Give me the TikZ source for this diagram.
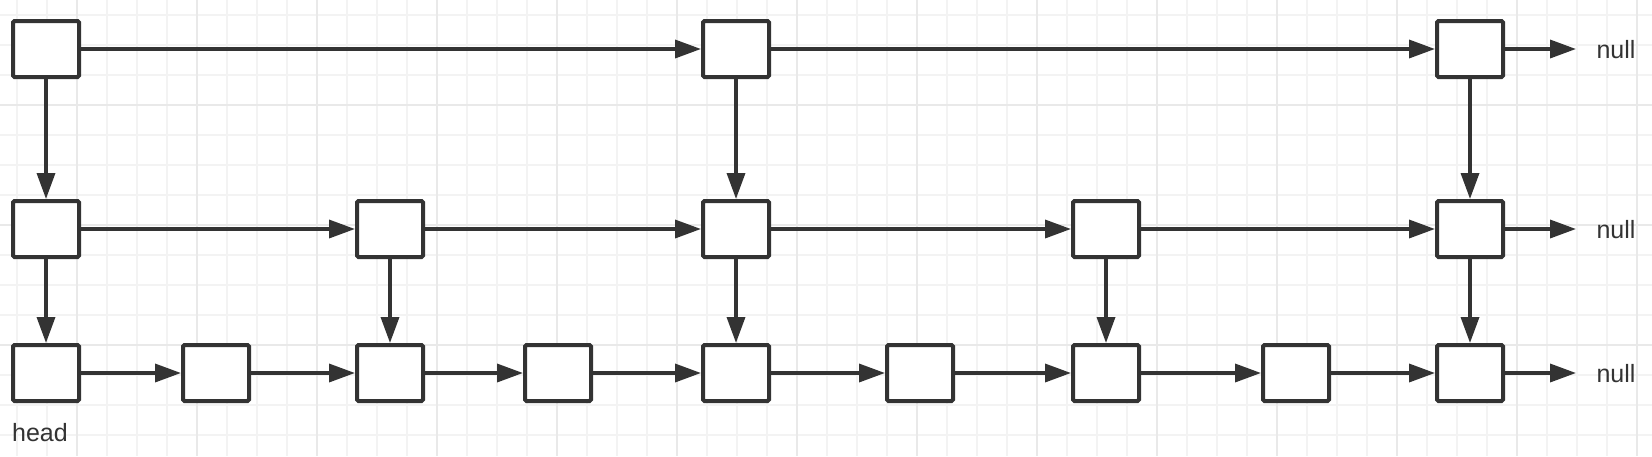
\documentclass[tikz,border=0pt]{standalone}
\usepackage{fontspec}
\setmainfont{Liberation Sans}
\usepackage{xcolor}
\usepackage{tikz}
\usetikzlibrary{arrows.meta}
\definecolor{inkgray}{HTML}{333333}
\definecolor{gridlight}{HTML}{F3F3F3}
\definecolor{gridheavy}{HTML}{E9E9E9}

\begin{document}
\begin{tikzpicture}[x=1pt,y=-1pt,
  cell/.style={draw=inkgray, line width=4pt, fill=white, rounded corners=1.5pt,
    minimum width=66pt, minimum height=56pt, inner sep=0pt},
  link/.style={draw=inkgray, line width=3.5pt, -{Triangle[length=26pt,width=18pt]}},
  txt/.style={text=inkgray, font=\fontsize{25}{30}\selectfont, inner sep=0pt}]
\useasboundingbox (0,0) rectangle (1652,456);
\fill[white] (0,0) rectangle (1652,456);
% background grid
\foreach \gx in {17,47,...,1637} \draw[gridlight, line width=1.8pt] (\gx,0) -- (\gx,456);
\foreach \gy in {15,45,...,435} \draw[gridlight, line width=1.8pt] (0,\gy) -- (1652,\gy);
\foreach \gx in {77,197,...,1637} \draw[gridheavy, line width=1.8pt] (\gx,0) -- (\gx,456);
\foreach \gy in {105,225,345} \draw[gridheavy, line width=1.8pt] (0,\gy) -- (1652,\gy);
% top level
\node[cell] (t0) at (46,49) {};
\node[cell] (t4) at (736,49) {};
\node[cell] (t8) at (1470,49) {};
% middle level
\node[cell] (m0) at (46,229) {};
\node[cell] (m2) at (390,229) {};
\node[cell] (m4) at (736,229) {};
\node[cell] (m6) at (1106,229) {};
\node[cell] (m8) at (1470,229) {};
% bottom level
\node[cell] (b0) at (46,373) {};
\node[cell] (b1) at (216,373) {};
\node[cell] (b2) at (390,373) {};
\node[cell] (b3) at (558,373) {};
\node[cell] (b4) at (736,373) {};
\node[cell] (b5) at (920,373) {};
\node[cell] (b6) at (1106,373) {};
\node[cell] (b7) at (1296,373) {};
\node[cell] (b8) at (1470,373) {};
% ends
\node[txt] (nt) at (1616,50) {null};
\node[txt] (nm) at (1616,230) {null};
\node[txt] (nb) at (1616,374) {null};
\node[txt] (head) at (40,433) {head};
\coordinate (et) at (1576,49);
\coordinate (em) at (1576,229);
\coordinate (eb) at (1576,373);
% forward links
\draw[link] (t0) -- (t4);
\draw[link] (t4) -- (t8);
\draw[link] (t8) -- (et);
\draw[link] (m0) -- (m2);
\draw[link] (m2) -- (m4);
\draw[link] (m4) -- (m6);
\draw[link] (m6) -- (m8);
\draw[link] (m8) -- (em);
\draw[link] (b0) -- (b1);
\draw[link] (b1) -- (b2);
\draw[link] (b2) -- (b3);
\draw[link] (b3) -- (b4);
\draw[link] (b4) -- (b5);
\draw[link] (b5) -- (b6);
\draw[link] (b6) -- (b7);
\draw[link] (b7) -- (b8);
\draw[link] (b8) -- (eb);
% down links
\draw[link] (t0) -- (m0);
\draw[link] (t4) -- (m4);
\draw[link] (t8) -- (m8);
\draw[link] (m0) -- (b0);
\draw[link] (m2) -- (b2);
\draw[link] (m4) -- (b4);
\draw[link] (m6) -- (b6);
\draw[link] (m8) -- (b8);
\end{tikzpicture}
\end{document}
